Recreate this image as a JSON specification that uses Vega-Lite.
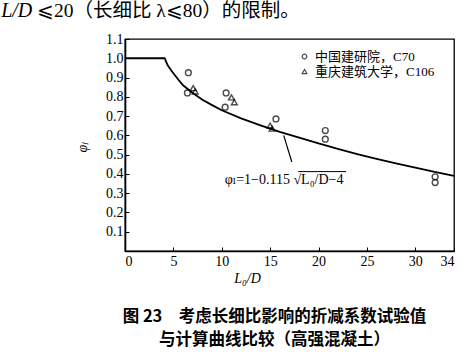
{
  "$schema": "https://vega.github.io/schema/vega-lite/v6.json",
  "autosize": {"type": "none"},
  "padding": {"left": 125, "top": 39, "right": 10, "bottom": 106},
  "width": 329,
  "height": 212,
  "background": "white",
  "config": {
    "view": {"stroke": "black", "strokeWidth": 1.3},
    "axis": {"domainColor": "black", "domainWidth": 1.6, "tickColor": "black", "grid": false,
             "labelFont": "Liberation Serif", "labelFontSize": 14, "labelColor": "black",
             "labelOverlap": false, "titleColor": "black"},
    "axisY": {"labelOverlap": false},
    "axisQuantitative": {"labelOverlap": false}
  },
  "title": {
    "text": ["图 23　考虑长细比影响的折减系数试验值", "与计算曲线比较（高强混凝土）"],
    "orient": "bottom", "anchor": "middle", "frame": "group", "dx": -15, "offset": 24,
    "font": "Noto Sans CJK SC", "fontSize": 16.5, "fontWeight": 700, "lineHeight": 23, "color": "black"
  },
  "datasets": {
    "curve": [
      {"x": 0, "y": 1.0}, {"x": 4.1, "y": 1.0}, {"x": 4.4, "y": 0.965}, {"x": 4.8, "y": 0.935},
      {"x": 5.5, "y": 0.89}, {"x": 6, "y": 0.86}, {"x": 7, "y": 0.82}, {"x": 8, "y": 0.785},
      {"x": 9, "y": 0.757}, {"x": 10, "y": 0.73}, {"x": 12, "y": 0.688}, {"x": 14, "y": 0.652},
      {"x": 16, "y": 0.618}, {"x": 18, "y": 0.588}, {"x": 20, "y": 0.558}, {"x": 22, "y": 0.53},
      {"x": 24, "y": 0.503}, {"x": 26, "y": 0.478}, {"x": 28, "y": 0.455}, {"x": 30, "y": 0.433},
      {"x": 32, "y": 0.41}, {"x": 34, "y": 0.39}
    ],
    "pts": [
      {"x": 6.55, "y": 0.925, "src": "中国建研院，C70"},
      {"x": 6.45, "y": 0.82, "src": "中国建研院，C70"},
      {"x": 10.45, "y": 0.82, "src": "中国建研院，C70"},
      {"x": 10.35, "y": 0.746, "src": "中国建研院，C70"},
      {"x": 15.6, "y": 0.685, "src": "中国建研院，C70"},
      {"x": 20.7, "y": 0.625, "src": "中国建研院，C70"},
      {"x": 20.7, "y": 0.58, "src": "中国建研院，C70"},
      {"x": 32.05, "y": 0.385, "src": "中国建研院，C70"},
      {"x": 32.05, "y": 0.355, "src": "中国建研院，C70"},
      {"x": 7.05, "y": 0.845, "src": "重庆建筑大学，C106"},
      {"x": 7.25, "y": 0.828, "src": "重庆建筑大学，C106"},
      {"x": 11.0, "y": 0.797, "src": "重庆建筑大学，C106"},
      {"x": 11.3, "y": 0.772, "src": "重庆建筑大学，C106"},
      {"x": 15.0, "y": 0.65, "src": "重庆建筑大学，C106"},
      {"x": 15.2, "y": 0.635, "src": "重庆建筑大学，C106"}
    ],
    "leader": [{"x": 16.4, "y": 0.6, "x2": 17.24, "y2": 0.462}],
    "overline": [{"x": 17.9, "y": 0.412, "x2": 22.85}],
    "note": [{"x": 10.3, "y": 0.368, "text": "φₗ=1−0.115 √L₀/D−4"}],
    "top1": [{"x": -12.8, "y": 1.243, "text": "L/D"}],
    "top2": [{"x": -9.1, "y": 1.243, "text": "⩽20（长细比 λ⩽80）的限制。"}]
  },
  "encoding": {
    "x": {"field": "x", "type": "quantitative",
          "scale": {"domain": [0, 34], "nice": false, "zero": false},
          "axis": {"values": [0, 5, 10, 15, 20, 25, 30, 34], "tickSize": -4, "labelPadding": 7,
                   "labelOverlap": false,
                   "title": "L₀/D", "titleFont": "Liberation Serif", "titleFontStyle": "italic",
                   "titleFontSize": 14, "titleFontWeight": "normal", "titleX": 122, "titleY": 20}},
    "y": {"field": "y", "type": "quantitative",
          "scale": {"domain": [0, 1.1], "nice": false, "zero": false},
          "axis": {"values": [0.1, 0.2, 0.3, 0.4, 0.5, 0.6, 0.7, 0.8, 0.9, 1.0, 1.1], "format": ".1f",
                   "tickSize": -4, "labelPadding": 6, "labelOverlap": false, "labelBound": false,
                   "title": "φₗ", "titleFont": "Liberation Serif", "titleFontStyle": "italic",
                   "titleFontSize": 14, "titleFontWeight": "normal", "titleX": -36, "titleY": 108}}
  },
  "layer": [
    {
      "data": {"name": "curve"},
      "mark": {"type": "line", "color": "black", "strokeWidth": 1.8},
      "encoding": {}
    },
    {
      "data": {"name": "pts"},
      "mark": {"type": "point", "filled": false, "strokeWidth": 1.4, "color": "black", "size": 34},
      "encoding": {
        "shape": {"field": "src", "type": "nominal",
                  "scale": {"domain": ["中国建研院，C70", "重庆建筑大学，C106"], "range": ["circle", "triangle-up"]},
                  "legend": {"title": null, "orient": "none", "legendX": 173, "legendY": 11,
                             "labelFont": "Liberation Serif, Noto Sans CJK SC", "labelFontSize": 13,
                             "labelColor": "black", "symbolSize": 22, "symbolStrokeColor": "black",
                             "symbolStrokeWidth": 1.2, "labelOffset": 4, "rowPadding": 1}}
      }
    },
    {
      "data": {"name": "leader"},
      "mark": {"type": "rule", "color": "black", "strokeWidth": 1.2},
      "encoding": {"x2": {"field": "x2"}, "y2": {"field": "y2"}}
    },
    {
      "data": {"name": "overline"},
      "mark": {"type": "rule", "color": "black", "strokeWidth": 1},
      "encoding": {"x2": {"field": "x2"}}
    },
    {
      "data": {"name": "note"},
      "mark": {"type": "text", "align": "left", "baseline": "middle", "font": "Liberation Serif, DejaVu Serif",
               "fontSize": 14, "color": "black"},
      "encoding": {"text": {"field": "text"}}
    },
    {
      "data": {"name": "top1"},
      "mark": {"type": "text", "align": "left", "baseline": "middle", "font": "Liberation Serif",
               "fontStyle": "italic", "fontSize": 20, "color": "black"},
      "encoding": {"text": {"field": "text"}}
    },
    {
      "data": {"name": "top2"},
      "mark": {"type": "text", "align": "left", "baseline": "middle",
               "font": "Liberation Serif, DejaVu Serif, Noto Sans CJK SC", "fontSize": 19.5, "color": "black"},
      "encoding": {"text": {"field": "text"}}
    }
  ]
}
